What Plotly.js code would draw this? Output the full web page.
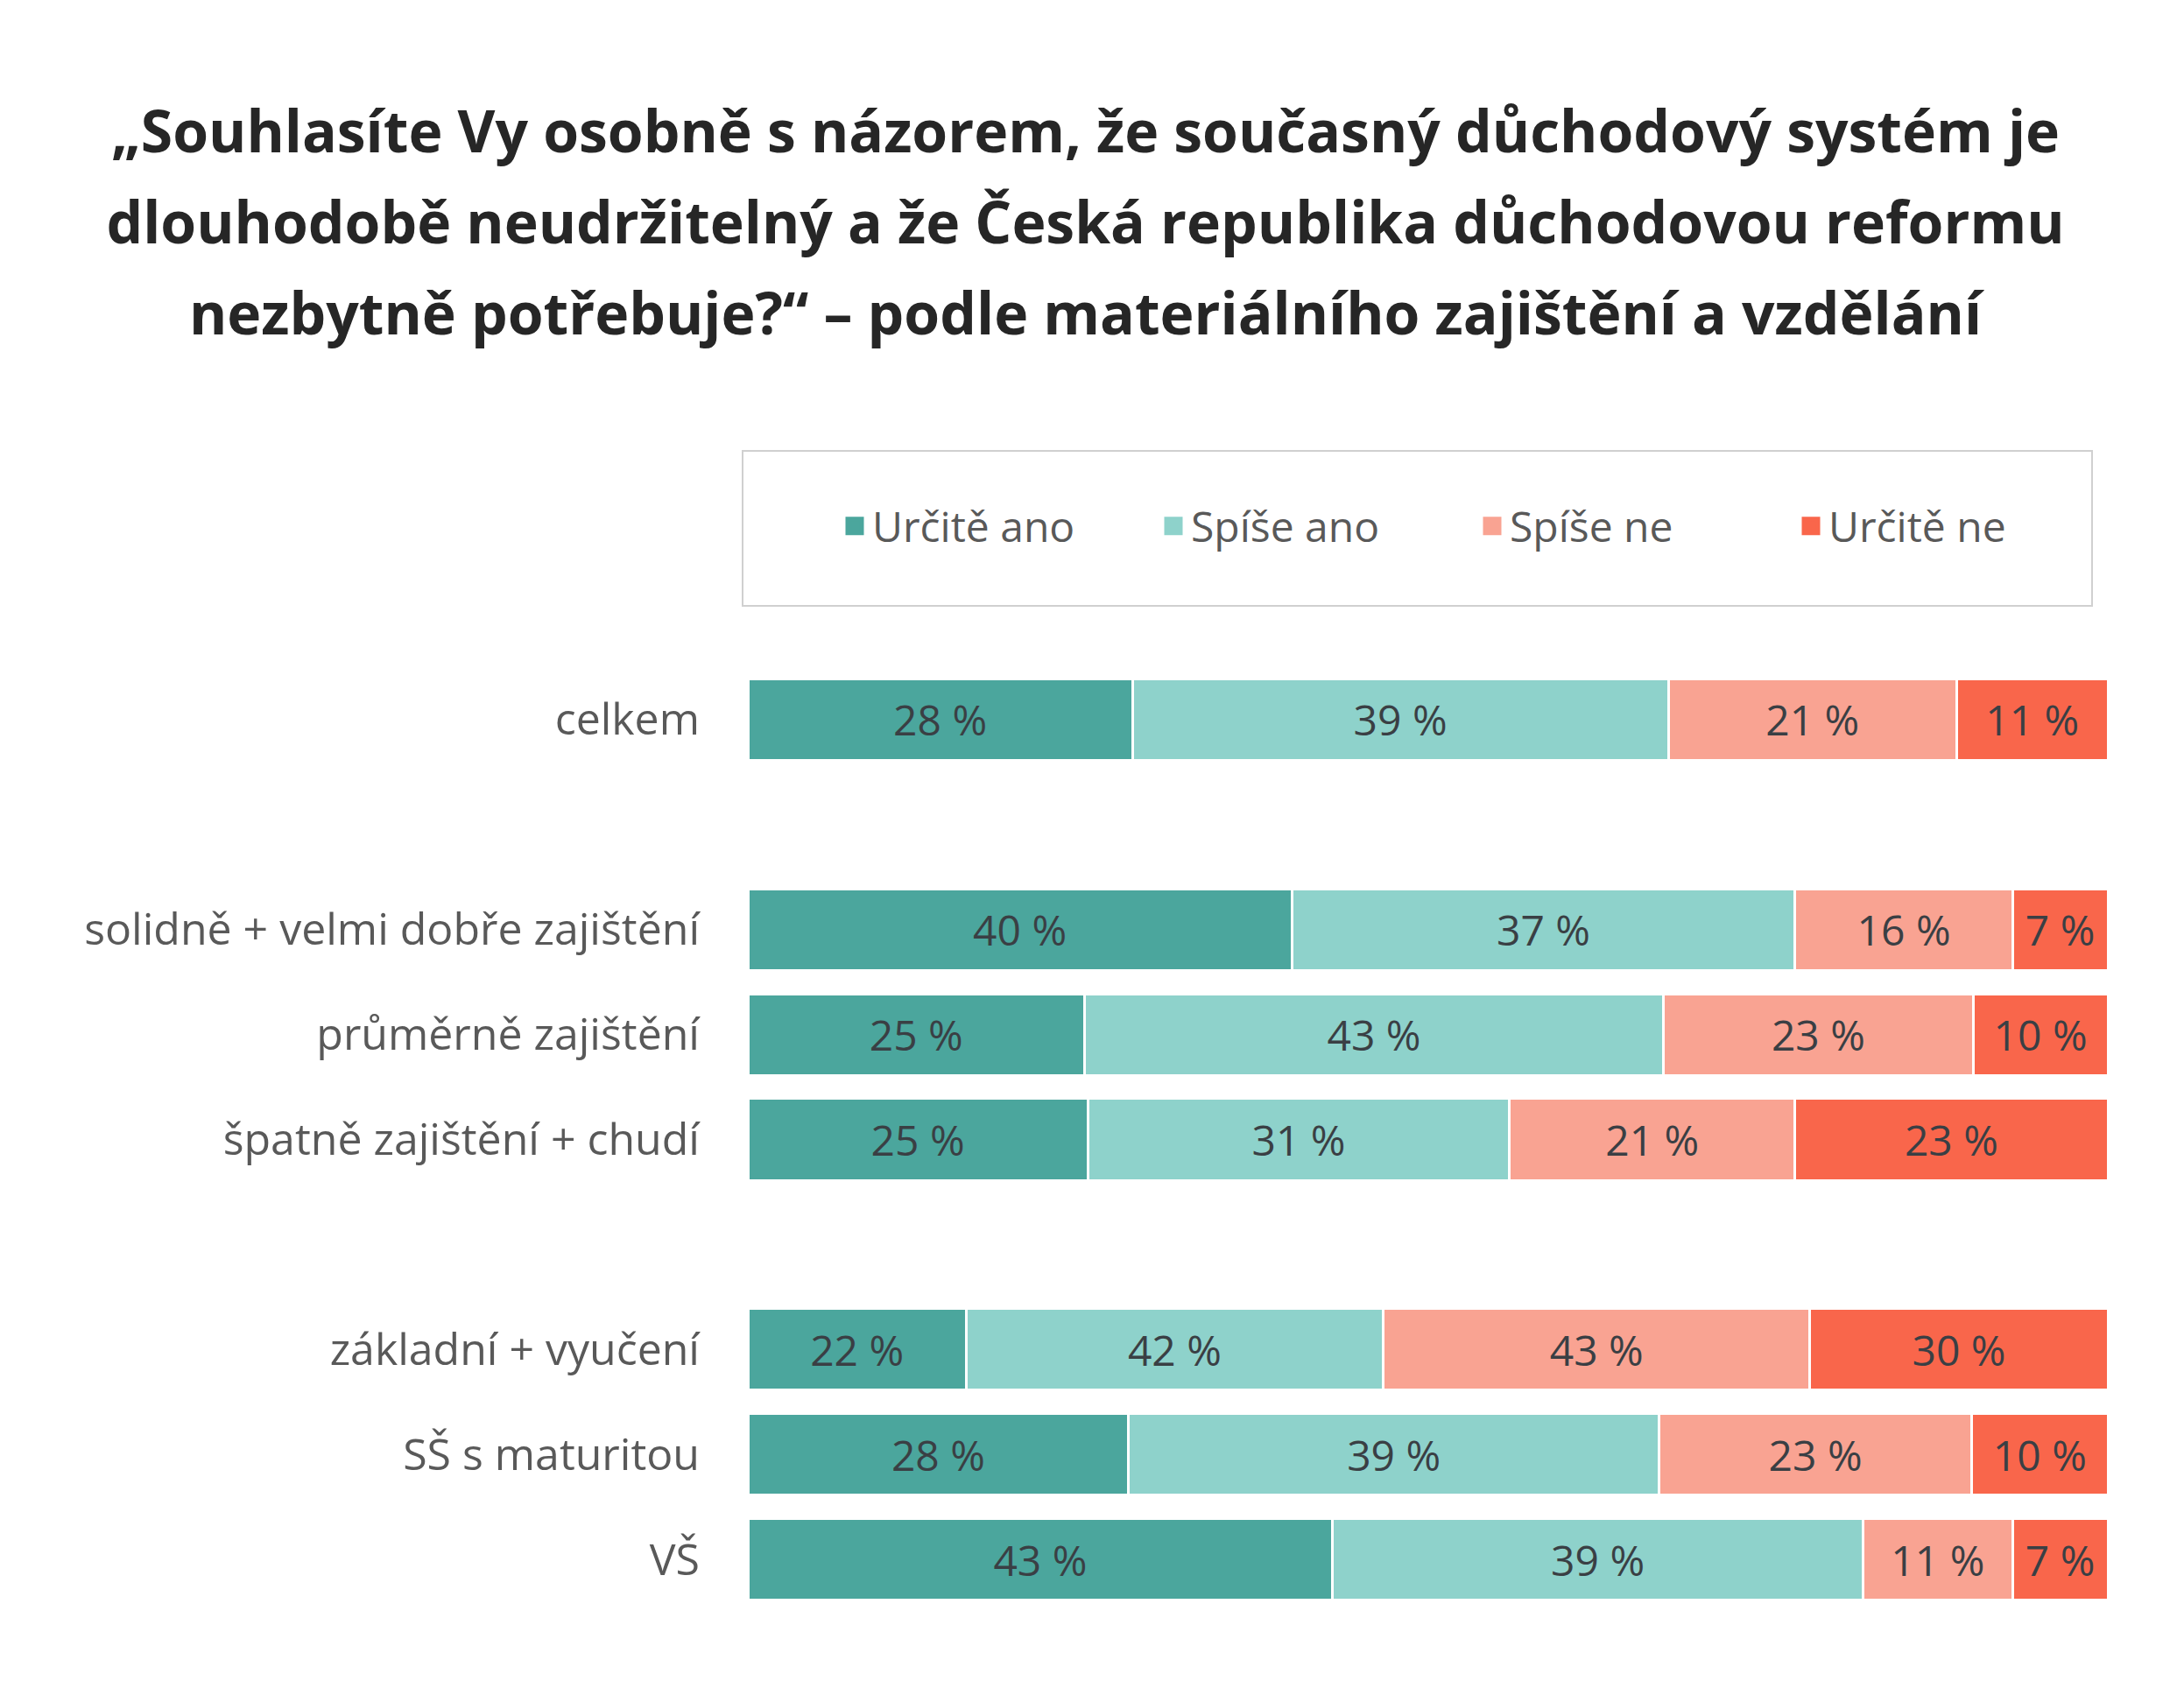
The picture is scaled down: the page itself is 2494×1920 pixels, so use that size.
<!DOCTYPE html>
<html><head><meta charset="utf-8">
<script src="https://cdn.plot.ly/plotly-3.0.1.min.js"></script>
<style>html,body{margin:0;padding:0;background:#fff}#chart{width:2494px;height:1920px}</style>
</head><body><div id="chart"></div>
<script>
// ---- data ----
const categories = ['celkem', 'solidně + velmi dobře zajištění', 'průměrně zajištění', 'špatně zajištění + chudí', 'základní + vyučení', 'SŠ s maturitou', 'VŠ'];
const categoryOrder = ['celkem', ' ', 'solidně + velmi dobře zajištění', 'průměrně zajištění', 'špatně zajištění + chudí', '  ', 'základní + vyučení', 'SŠ s maturitou', 'VŠ'];
const seriesNames = ['Určitě ano', 'Spíše ano', 'Spíše ne', 'Určitě ne'];
const urciteAno = [28, 40, 25, 25, 22, 28, 43];
const spiseAno  = [39, 37, 43, 31, 42, 39, 39];
const spiseNe   = [21, 16, 23, 21, 43, 23, 11];
const urciteNe  = [11, 7, 10, 23, 30, 10, 7];
const titleLines = ['„Souhlasíte Vy osobně s názorem, že současný důchodový systém je', 'dlouhodobě neudržitelný a že Česká republika důchodovou reformu', 'nezbytně potřebuje?“ – podle materiálního zajištění a vzdělání'];

// ---- styles ----
const colors = ['#4BA69D', '#8ED2CB', '#F9A392', '#F9664B'];
const values = [urciteAno, spiseAno, spiseNe, urciteNe];
const FONT = 'Open Sans, sans-serif';

const barTraces = seriesNames.map((name, i) => ({
  type: 'bar',
  orientation: 'h',
  name: name,
  legendgroup: name,
  showlegend: false,
  y: categories,
  x: values[i],
  text: values[i].map(v => v + ' %'),
  textposition: 'inside',
  insidetextanchor: 'middle',
  textangle: 0,
  textfont: {family: FONT, size: 48, color: '#3A3F44'},
  marker: {color: colors[i], line: {color: '#ffffff', width: 3}},
  hoverinfo: 'name+text'
}));

// legend keys (no data points; they only carry the legend symbol)
const legendTraces = seriesNames.map((name, i) => ({
  type: 'scatter', mode: 'markers',
  name: name, legendgroup: name,
  x: [null], y: [null],
  marker: {symbol: 'square', size: 16, color: colors[i], line: {color: colors[i], width: 5}},
  hoverinfo: 'skip'
}));

const layout = {
  width: 2494, height: 1920,
  paper_bgcolor: '#ffffff', plot_bgcolor: '#ffffff',
  barmode: 'stack', barnorm: 'percent', bargap: 0.224,
  margin: {l: 854, r: 87, t: 762, b: 79, pad: 0},
  font: {family: FONT, color: '#595959'},
  title: {
    text: titleLines.map(s => '<span style="font-size:66px">' + s + '</span>').join('<br>'),
    font: {family: FONT, size: 80, color: '#262626', weight: 700},
    x: 0.497, xref: 'container', xanchor: 'center',
    y: 1 - 174 / 1920, yref: 'container', yanchor: 'top'
  },
  xaxis: {range: [0, 100], showticklabels: false, showgrid: false, zeroline: false, showline: false, fixedrange: true},
  yaxis: {
    type: 'category', categoryorder: 'array', categoryarray: categoryOrder,
    autorange: 'reversed', showgrid: false, zeroline: false, showline: false,
    ticks: 'outside', ticklen: 44, tickcolor: 'rgba(0,0,0,0)',
    tickfont: {family: FONT, size: 50, color: '#595959'}, fixedrange: true
  },
  showlegend: true,
  legend: {
    orientation: 'h', traceorder: 'normal',
    xref: 'container', yref: 'container',
    x: 956 / 2494, xanchor: 'left', y: 1 - 601 / 1920, yanchor: 'middle',
    font: {family: FONT, size: 48, color: '#595959'},
    entrywidth: 319, entrywidthmode: 'pixels',
    bgcolor: 'rgba(0,0,0,0)', borderwidth: 0
  },
  shapes: [{
    type: 'rect', xref: 'paper', yref: 'paper',
    x0: (848 - 854) / 1553, x1: (2389 - 854) / 1553,
    y0: (1841 - 692) / 1079, y1: (1841 - 515) / 1079,
    line: {color: '#D0D0D0', width: 2}, fillcolor: 'rgba(0,0,0,0)', layer: 'below'
  }]
};

Plotly.newPlot('chart', barTraces.concat(legendTraces), layout, {displayModeBar: false, staticPlot: true});
</script></body></html>
